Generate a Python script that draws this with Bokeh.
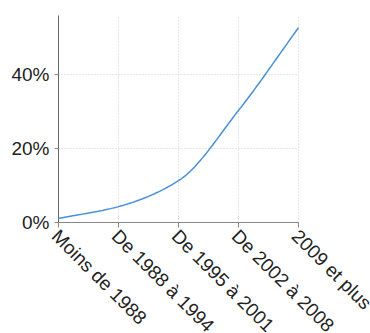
import numpy as np
from bokeh.plotting import figure
from bokeh.models import Range1d
from bokeh.embed import file_html
from bokeh.resources import INLINE

categories = ["Moins de 1988", "De 1988 à 1994", "De 1995 à 2001", "De 2002 à 2008", "2009 et plus"]
values = [1.1, 4.3, 11.3, 30.3, 52.7]
y_ticks = [0, 20, 40]
y_tick_labels = ["0%", "20%", "40%"]
y_max = 56

xs = np.arange(len(categories), dtype=float)
ys = np.array(values, dtype=float)
yt = np.array(y_ticks, dtype=float)

# monotone cubic (Fritsch-Carlson) smoothing for drawing the line
def monotone_curve(x, y, n=30):
    h = np.diff(x); d = np.diff(y) / h
    m = np.zeros_like(y)
    m[0] = d[0]; m[-1] = d[-1]
    for i in range(1, len(y) - 1):
        if d[i - 1] * d[i] <= 0:
            m[i] = 0
        else:
            w1 = 2 * h[i] + h[i - 1]; w2 = h[i] + 2 * h[i - 1]
            m[i] = (w1 + w2) / (w1 / d[i - 1] + w2 / d[i])
    cx, cy = [], []
    for i in range(len(x) - 1):
        t = np.linspace(0, 1, n, endpoint=(i == len(x) - 2))
        h00 = 2*t**3 - 3*t**2 + 1; h10 = t**3 - 2*t**2 + t
        h01 = -2*t**3 + 3*t**2; h11 = t**3 - t**2
        cx.extend(x[i] + t * h[i])
        cy.extend(h00*y[i] + h10*h[i]*m[i] + h01*y[i+1] + h11*h[i]*m[i+1])
    return cx, cy

cx, cy = monotone_curve(xs, ys)

# layout: the frame covers the whole canvas; axes are drawn from the data
W, H = 370, 333
left, right, top = 58, 72, 15
plot_w, plot_h = W - left - right, 207
n = len(categories) - 1
ppx = plot_w / n
ppu = plot_h / y_max
x_range = Range1d(-left / ppx, n + right / ppx)
y_range = Range1d(-(H - top - plot_h) / ppu, y_max + top / ppu)

p = figure(width=W, height=H, output_backend="svg", toolbar_location=None,
           x_range=x_range, y_range=y_range,
           min_border=0)
p.outline_line_color = None
p.background_fill_color = "white"
p.axis.visible = False
p.grid.visible = False

grid = dict(line_color="#cccccc", line_dash="1 2", line_width=1)
# vertical dotted grid lines at categories
p.segment(x0=xs, y0=0, x1=xs, y1=y_max, **grid)
# horizontal dotted grid lines at value ticks
p.segment(x0=0, y0=yt, x1=n, y1=yt, **grid)

# x axis line and ticks
p.segment(x0=[0], y0=[0], x1=[n], y1=[0], line_color="#888888", line_width=1)
p.segment(x0=xs, y0=0, x1=xs, y1=-5 / ppu, line_color="#888888", line_width=1)

# y axis line and ticks
p.segment(x0=[0], y0=[0], x1=[0], y1=[y_max], line_color="#666666", line_width=1)
p.segment(x0=-4 / ppx, y0=yt, x1=0, y1=yt, line_color="#888888", line_width=1)

# data line
p.line(cx, cy, line_color="#4a90d9", line_width=1.5)

font = {"value": "Liberation Sans"}
p.text(x=xs, y=0, text=categories, angle=-np.pi / 4, x_offset=4, y_offset=3,
       text_align="left", text_baseline="top",
       text_font=font, text_font_size={"value": "19px"}, text_color="#222222")
p.text(x=0, y=yt, text=y_tick_labels, x_offset=-9, y_offset=0,
       text_align="right", text_baseline="middle",
       text_font=font, text_font_size={"value": "19px"}, text_color="#222222")

open("out.html", "w").write(file_html(p, INLINE))
